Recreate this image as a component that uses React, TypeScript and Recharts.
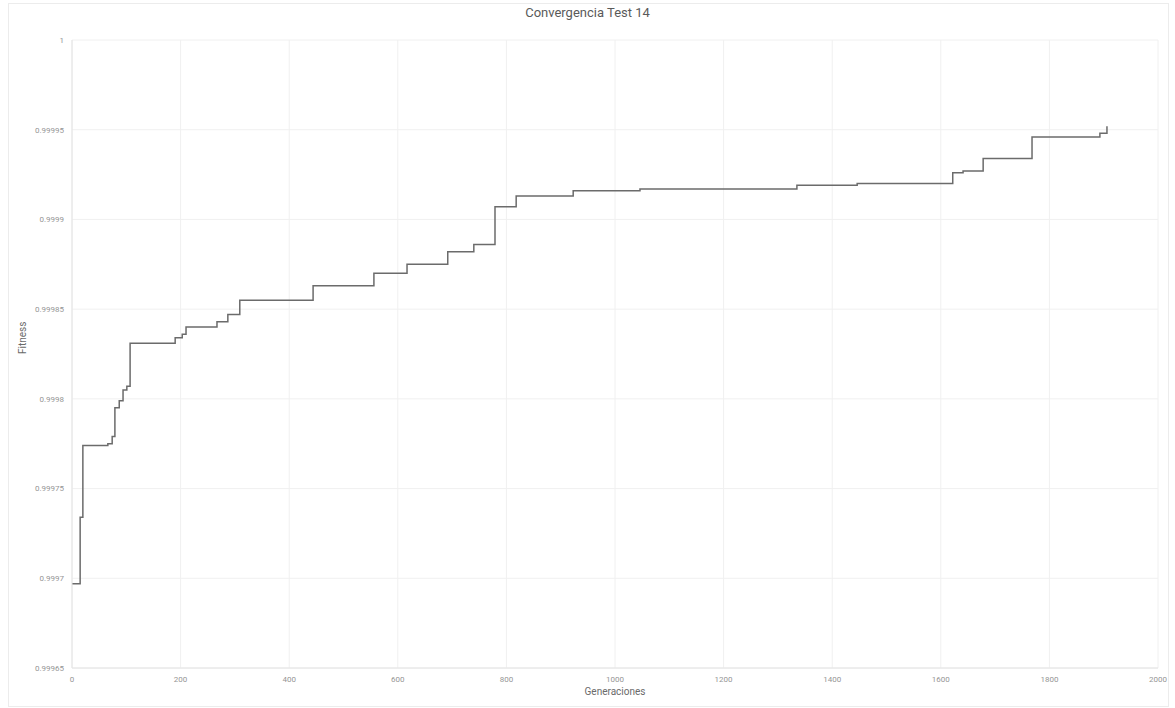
import { LineChart, Line, XAxis, YAxis, CartesianGrid, Label } from 'recharts';

const generations = [
  0, 15, 20, 66, 74, 79, 87, 94, 101, 107, 190, 203, 210, 267, 287, 309, 444, 556, 617, 692,
  740, 779, 818, 923, 1046, 1335, 1446, 1622, 1641, 1678, 1768, 1869, 1893, 1906,
];
const fitness = [
  0.999697, 0.999734, 0.999774, 0.999775, 0.999779, 0.999795, 0.999799, 0.999805, 0.999807,
  0.999831, 0.999834, 0.999836, 0.99984, 0.999843, 0.999847, 0.999855, 0.999863, 0.99987,
  0.999875, 0.999882, 0.999886, 0.999907, 0.999913, 0.999916, 0.999917, 0.999919, 0.99992,
  0.999926, 0.999927, 0.999934, 0.999946, 0.999946, 0.999948, 0.999952,
];

const xTicks = [0, 200, 400, 600, 800, 1000, 1200, 1400, 1600, 1800, 2000];
const yTicks = [0.99965, 0.9997, 0.99975, 0.9998, 0.99985, 0.9999, 0.99995, 1];
const yTickLabels = ['0.99965', '0.9997', '0.99975', '0.9998', '0.99985', '0.9999', '0.99995', '1'];

const data = generations.map((g, i) => ({ gen: g, fitness: fitness[i] }));

const tickStyle = { fontSize: 8, fill: '#959595', fontFamily: 'Roboto, sans-serif' };

export default function App() {
  return (
    <div
      style={{
        position: 'absolute',
        left: 0,
        top: 0,
        width: 1175,
        height: 708,
        background: '#fff',
        fontFamily: 'Roboto, sans-serif',
      }}
    >
      <div
        style={{
          position: 'absolute',
          left: 8,
          top: 3,
          width: 1159,
          height: 702,
          border: '1px solid #ececec',
        }}
      />
      <div
        style={{
          position: 'absolute',
          left: 0,
          top: 5,
          width: 1175,
          textAlign: 'center',
          fontSize: 13,
          color: '#5a5a5a',
        }}
      >
        Convergencia Test 14
      </div>
      <LineChart
        width={1175}
        height={708}
        data={data}
        margin={{ top: 40, right: 17, bottom: 20, left: 12 }}
      >
        <CartesianGrid stroke="#f0f0f0" />
        <XAxis
          dataKey="gen"
          type="number"
          domain={[0, 2000]}
          ticks={xTicks}
          tick={tickStyle}
          tickLine={false}
          axisLine={{ stroke: '#e4e4e4' }}
          height={20}
        >
          <Label value="Generaciones" position="insideBottom" offset={-7} fontSize={10} fill="#6a6a6a" />
        </XAxis>
        <YAxis
          type="number"
          domain={[0.99965, 1]}
          ticks={yTicks}
          tick={tickStyle}
          tickFormatter={(v: number) => yTickLabels[yTicks.indexOf(v)] ?? String(v)}
          tickLine={false}
          axisLine={{ stroke: '#e4e4e4' }}
          width={60}
          allowDataOverflow
        >
          <Label value="Fitness" angle={-90} position="insideLeft" offset={10} fontSize={10} fill="#6a6a6a" />
        </YAxis>
        <Line
          type="stepAfter"
          dataKey="fitness"
          stroke="#6b6b6b"
          strokeWidth={1.5}
          dot={false}
          isAnimationActive={false}
        />
      </LineChart>
    </div>
  );
}
